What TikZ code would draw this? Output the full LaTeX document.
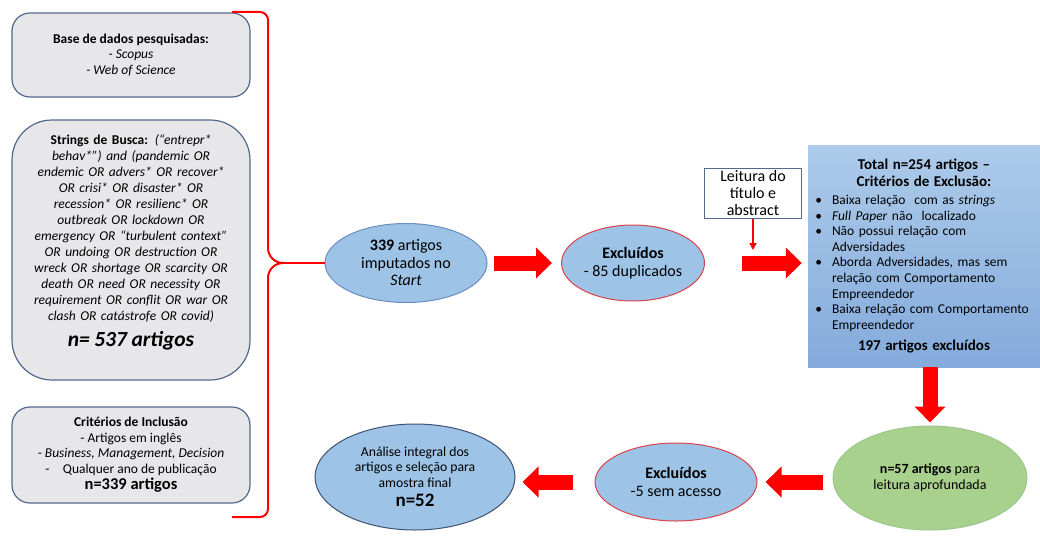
\documentclass[tikz,border=0pt]{standalone}
\usepackage{fontspec}
\setmainfont{Carlito}
\usetikzlibrary{shapes.geometric,arrows.meta}

\definecolor{boxgray}{HTML}{E7E7E9}
\definecolor{boxline}{HTML}{52688C}
\definecolor{blobblue}{HTML}{9DC3E6}
\definecolor{blobline}{HTML}{6A8CBF}
\definecolor{exclline}{HTML}{D9434E}
\definecolor{analine}{HTML}{3F5272}
\definecolor{greenfill}{HTML}{A9D18E}
\definecolor{greenline}{HTML}{9CC68A}
\definecolor{totaltop}{HTML}{ADCBEA}
\definecolor{totalbot}{HTML}{84ABDC}

\tikzset{
  leftbox/.style={draw=boxline, fill=boxgray, line width=1.2pt, rounded corners=18pt,
    minimum width=238pt, align=center, inner sep=0pt,
    font=\fontsize{13.5}{15.5}\selectfont},
  blob/.style={ellipse, draw=blobline, fill=blobblue, line width=1pt, inner sep=0pt,
    align=center, font=\fontsize{16}{17.5}\selectfont},
  fatarrow/.style={red, line width=15pt, -{Triangle[length=16pt,width=30pt]}},
  brace/.style={red, line width=2pt},
}

\begin{document}
\begin{tikzpicture}[x=1pt,y=-1pt]
  \useasboundingbox (0,0) rectangle (1040,535);

  % left column
  \node[leftbox, minimum height=84pt] (bases) at (131,55)
    {\textbf{Base de dados pesquisadas:}\\ \textit{- Scopus}\\ \textit{- Web of Science}};
  \node[leftbox, minimum height=260pt, rounded corners=40pt] (strings) at (131,250) {};
  \node[anchor=north, text width=232pt, align=center, inner sep=0pt,
    font=\fontsize{13.5}{16}\selectfont] (stringstext) at (131,134)
    {\textbf{Strings de Busca:} \textit{(“entrepr*}\\
     \textit{behav*”) and (pandemic OR}\\
     \textit{endemic OR advers* OR recover*}\\
     \textit{OR crisi* OR disaster* OR}\\
     \textit{recession* OR resilienc* OR}\\
     \textit{outbreak OR lockdown OR}\\
     \textit{emergency OR “turbulent context”}\\
     \textit{OR undoing OR destruction OR}\\
     \textit{wreck OR shortage OR scarcity OR}\\
     \textit{death OR need OR necessity OR}\\
     \textit{requirement OR conflit OR war OR}\\
     \textit{clash OR catástrofe OR covid)}\\[8pt]
     {\fontsize{21.5}{23}\selectfont\bfseries\itshape n= 537 artigos}};
  \node[leftbox, minimum height=96pt] (inclusao) at (131,455)
    {\textbf{Critérios de Inclusão}\\ - Artigos em inglês\\
     \textit{- Business, Management, Decision}\\ -\quad Qualquer ano de publicação\\[1pt]
     {\fontsize{16.5}{18}\selectfont\bfseries n=339 artigos}};

  % brace
  \coordinate (bracetip) at (283,263);
  \draw[brace] (232,12) -- (260,12) to[out=0,in=90] (268,20) -- (268,248)
    to[out=-90,in=180] (bracetip) to[out=180,in=90] (268,278) -- (268,509)
    to[out=-90,in=0] (260,517) -- (232,517);

  % top row
  \node[blob, minimum width=162pt, minimum height=79pt] (start) at (406,263)
    {\textbf{339} artigos\\ imputados no\\ \textit{Start}};
  \node[blob, draw=exclline, minimum width=143pt, minimum height=76pt] (dupl) at (633,263)
    {\textbf{Excluídos}\\ - 85 duplicados};
  \node[draw=boxline, fill=white, line width=1pt, minimum width=97pt, minimum height=50pt,
    inner sep=0pt, align=center, font=\fontsize{16}{17}\selectfont] (leitura) at (753,193)
    {Leitura do\\ título e\\ abstract};
  \node[top color=totaltop, bottom color=totalbot, minimum width=232pt, minimum height=222pt,
    text width=230pt, inner sep=0pt, align=left, font=\fontsize{13.5}{15.6}\selectfont] (total) at (924,256)
    {{\centering\fontsize{15}{17}\selectfont\bfseries Total n=254 artigos –\\ Critérios de Exclusão:\par}
     \begin{list}{\textbullet}{\setlength\leftmargin{23pt}\setlength\labelsep{10pt}
       \setlength\labelwidth{8pt}\setlength\itemsep{0pt}\setlength\parsep{0pt}\setlength\topsep{0pt}}
     \item Baixa relação \ com as \textit{strings}
     \item \textit{Full Paper} não \ localizado
     \item Não possui relação com Adversidades
     \item Aborda Adversidades, mas sem relação com Comportamento Empreendedor
     \item Baixa relação com Comportamento Empreendedor
     \end{list}
     {\centering\fontsize{15}{19}\selectfont\bfseries 197 artigos excluídos\par}};

  % bottom row
  \node[blob, fill=greenfill, draw=greenline, minimum width=194pt, minimum height=104pt,
    font=\fontsize{14}{16}\selectfont] (aprof) at (930,478)
    {\textbf{n=57 artigos} para\\ leitura aprofundada};
  \node[blob, draw=exclline, minimum width=162pt, minimum height=78pt] (acesso) at (676,482)
    {\textbf{Excluídos}\\ -5 sem acesso};
  \node[blob, draw=analine, minimum width=200pt, minimum height=106pt,
    font=\fontsize{13.7}{15.5}\selectfont] (analise) at (415,477)
    {Análise integral dos\\ artigos e seleção para\\ amostra final\\[4pt]
     {\fontsize{19}{20}\selectfont\bfseries n=52}};

  % connectors
  \draw[brace] (bracetip) -- (start.west);
  \draw[fatarrow, shorten <=6pt, shorten >=9pt] (start.east) -- (dupl.west);
  \draw[fatarrow, shorten <=37pt, shorten >=6pt] (dupl.east) -- (dupl.east -| total.west);
  \draw[red, line width=1.5pt, -{Triangle[length=7pt,width=7pt]}, shorten >=13pt]
    (leitura.south) -- (leitura.south |- dupl.east);
  \draw[fatarrow, shorten >=3pt] (aprof.north |- total.south) -- (aprof.north);
  \draw[fatarrow, shorten <=10pt, shorten >=8pt] (aprof.west |- acesso.east) -- (acesso.east);
  \draw[fatarrow, shorten <=22pt, shorten >=7pt] (acesso.west) -- (acesso.west -| analise.east);
\end{tikzpicture}
\end{document}
